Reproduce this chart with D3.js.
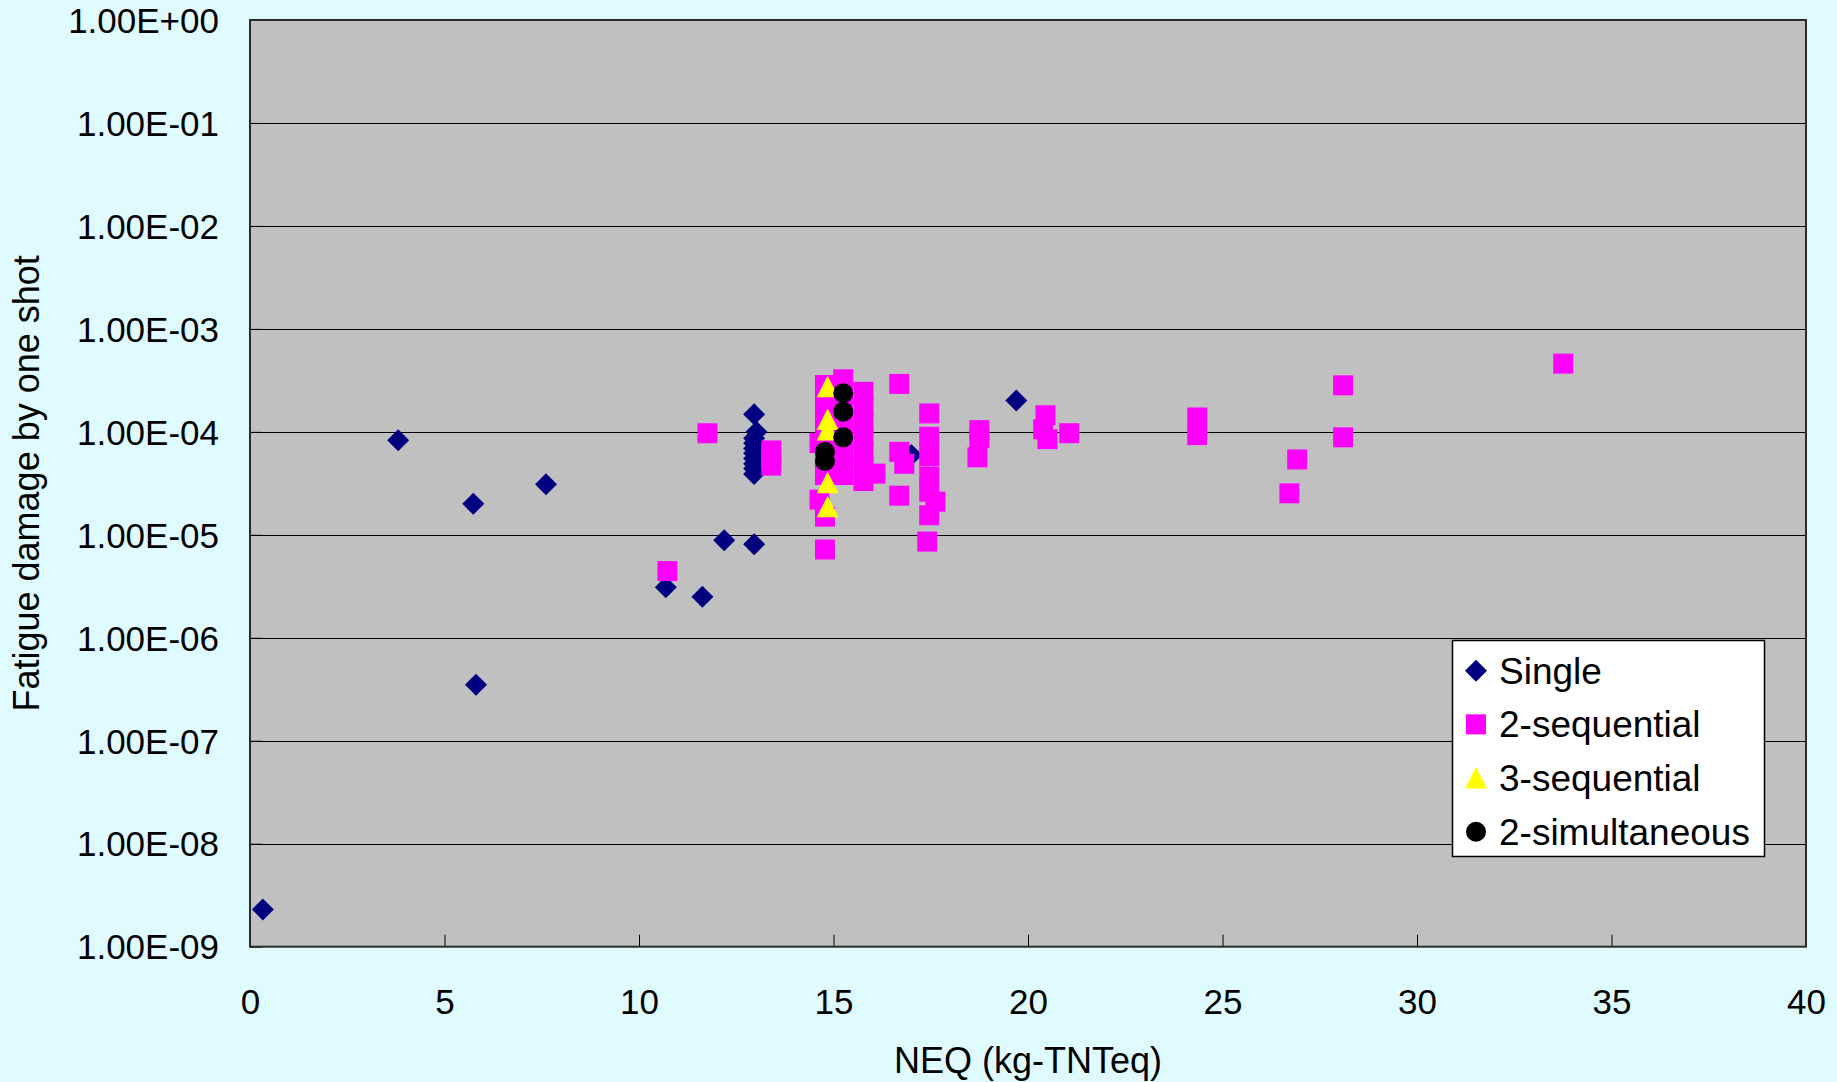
<!DOCTYPE html>
<html>
<head>
<meta charset="utf-8">
<script src="https://cdn.jsdelivr.net/npm/d3@7"></script>
<style>
  html, body { margin: 0; padding: 0; background: #E0FBFF; }
  svg { display: block; }
  text { font-family: "Liberation Sans", Arial, sans-serif; fill: #000; }
</style>
</head>
<body>
<svg id="chart" width="1837" height="1082"></svg>
<script>
// ---- data ----
const xTicks = [0, 5, 10, 15, 20, 25, 30, 35, 40];
const yExponents = [0, -1, -2, -3, -4, -5, -6, -7, -8, -9];
const seriesNames = ["Single", "2-sequential", "3-sequential", "2-simultaneous"];

const single = [
  [0.33, 2.3e-9], [3.81, 8.3e-5], [5.74, 2.0e-5], [5.81, 3.5e-7], [7.61, 3.1e-5],
  [10.69, 3.1e-6], [11.63, 2.5e-6], [12.19, 8.85e-6], [12.96, 8.1e-6],
  [12.96, 1.48e-4], [13.02, 1.0e-4], [12.96, 8.65e-5], [12.96, 7.75e-5], [12.96, 6.9e-5],
  [12.96, 6.2e-5], [12.96, 5.5e-5], [12.96, 4.9e-5], [12.96, 4.4e-5], [12.96, 3.9e-5],
  [17.0, 5.95e-5], [19.7, 2.02e-4]
];
const seq2 = [
  [10.73, 4.45e-6], [11.76, 9.7e-5],
  [13.4, 6.6e-5], [13.4, 5.6e-5], [13.4, 4.7e-5],
  [14.64, 7.8e-5], [14.64, 2.2e-5],
  [14.78, 2.85e-4], [14.78, 2.04e-4], [14.78, 1.46e-4], [14.78, 1.04e-4], [14.78, 7.45e-5],
  [14.78, 5.33e-5], [14.78, 3.81e-5], [14.78, 1.5e-5], [14.78, 7.2e-6],
  [15.25, 3.24e-4], [15.25, 2.28e-4], [15.25, 1.63e-4], [15.25, 1.12e-4], [15.25, 7.7e-5],
  [15.25, 5.33e-5], [15.25, 3.81e-5],
  [15.77, 2.45e-4], [15.77, 1.75e-4], [15.77, 1.26e-4], [15.77, 8.97e-5], [15.77, 6.41e-5],
  [15.77, 4.58e-5], [15.77, 3.33e-5],
  [16.08, 3.93e-5],
  [16.69, 2.92e-4], [16.69, 6.4e-5], [16.82, 4.9e-5], [16.69, 2.4e-5],
  [17.46, 1.51e-4], [17.46, 8.97e-5], [17.46, 5.8e-5], [17.46, 3.67e-5], [17.46, 2.62e-5],
  [17.46, 1.55e-5], [17.62, 2.1e-5], [17.41, 8.6e-6],
  [18.75, 1.04e-4], [18.75, 8.7e-5], [18.7, 5.66e-5],
  [20.45, 1.45e-4], [20.39, 1.06e-4], [20.5, 8.5e-5], [21.06, 9.7e-5],
  [24.35, 1.38e-4], [24.35, 9.3e-5],
  [26.72, 2.53e-5], [26.92, 5.4e-5],
  [28.1, 2.83e-4], [28.1, 8.85e-5],
  [33.76, 4.6e-4]
];
const seq3 = [
  [14.85, 2.75e-4], [14.85, 1.32e-4], [14.85, 1.04e-4], [14.85, 3.2e-5], [14.85, 1.87e-5]
];
const sim2 = [
  [15.25, 2.37e-4], [15.25, 1.57e-4], [15.25, 8.85e-5], [14.78, 6.41e-5], [14.78, 5.21e-5]
];

// ---- layout ----
const L = 250, R = 1806, T = 20, B = 946.7;
const svg = d3.select("#chart");

const x = d3.scaleLinear().domain([0, 40]).range([L, R]);
const y = d3.scaleLog().domain([1e-9, 1]).range([B, T]);

// plot background
svg.append("rect").attr("x", L).attr("y", T).attr("width", R - L).attr("height", B - T)
  .attr("fill", "#C0C0C0");

// gridlines
svg.append("g").selectAll("line").data(yExponents.slice(1, -1)).join("line")
  .attr("x1", L).attr("x2", R)
  .attr("y1", e => Math.round(y(Math.pow(10, e))) + 0.5)
  .attr("y2", e => Math.round(y(Math.pow(10, e))) + 0.5)
  .attr("stroke", "#000").attr("stroke-width", 1.2);

// y axis
const fmtE = e => "1.00E" + (e < 0 ? "-" : "+") + String(Math.abs(e)).padStart(2, "0");
const yAxis = d3.axisLeft(y)
  .tickValues(yExponents.map(e => Math.pow(10, e)))
  .tickFormat(v => fmtE(Math.round(Math.log10(v))))
  .tickSizeInner(-12).tickSizeOuter(0).tickPadding(31);
const gy = svg.append("g").attr("transform", `translate(${L},0)`).call(yAxis);
gy.select(".domain").remove();
gy.selectAll(".tick line").attr("stroke", "#000");
gy.selectAll(".tick text").attr("font-size", 35).attr("font-family", "Liberation Sans, Arial")
  .attr("dy", "0.35em").attr("fill", "#000");

// x axis
const xAxis = d3.axisBottom(x).tickValues(xTicks).tickFormat(d3.format("d"))
  .tickSizeInner(-12).tickSizeOuter(0).tickPadding(0);
const gx = svg.append("g").attr("transform", `translate(0,${B})`).call(xAxis);
gx.select(".domain").remove();
gx.selectAll(".tick line").attr("stroke", "#000");
gx.selectAll(".tick text").attr("font-size", 35).attr("font-family", "Liberation Sans, Arial")
  .attr("y", 55).attr("dy", "0.35em").attr("fill", "#000");

// plot border
svg.append("rect").attr("x", L).attr("y", T).attr("width", R - L).attr("height", B - T)
  .attr("fill", "none").attr("stroke", "#2a2a2a").attr("stroke-width", 2);

// markers
const diamondPath = "M0,-11L11,0L0,11L-11,0Z";
const squarePath = "M-10,-10H10V10H-10Z";
const trianglePath = "M0,-11L11,10.5H-11Z";
const circlePath = d3.symbol(d3.symbolCircle, Math.PI * 100)();

const styles = [
  { data: single, path: diamondPath, fill: "#000080" },
  { data: seq2, path: squarePath, fill: "#FF00FF" },
  { data: seq3, path: trianglePath, fill: "#FFFF00" },
  { data: sim2, path: circlePath, fill: "#000000" }
];

styles.forEach(s => {
  svg.append("g").selectAll("path").data(s.data).join("path")
    .attr("d", s.path)
    .attr("transform", d => `translate(${x(d[0])},${y(d[1])})`)
    .attr("fill", s.fill);
});

// axis titles
svg.append("text").attr("x", (L + R) / 2).attr("y", 1060).attr("dy", "0.35em")
  .attr("text-anchor", "middle").attr("font-size", 36).text("NEQ (kg-TNTeq)");
svg.append("text").attr("transform", `translate(26,${(T + B) / 2}) rotate(-90)`)
  .attr("dy", "0.35em").attr("text-anchor", "middle").attr("font-size", 36)
  .text("Fatigue damage by one shot");

// legend
const lg = svg.append("g");
lg.append("rect").attr("x", 1452.5).attr("y", 640.5).attr("width", 312).attr("height", 216)
  .attr("fill", "#fff").attr("stroke", "#000").attr("stroke-width", 1.5);
const rowY = d3.scalePoint().domain(seriesNames).range([670.7, 831.7]);
seriesNames.forEach((n, i) => {
  lg.append("path").attr("d", styles[i].path)
    .attr("transform", `translate(1476,${rowY(n)})`).attr("fill", styles[i].fill);
  lg.append("text").attr("x", 1499).attr("y", rowY(n)).attr("dy", "0.35em")
    .attr("font-size", 37).text(n);
});
</script>
</body>
</html>
